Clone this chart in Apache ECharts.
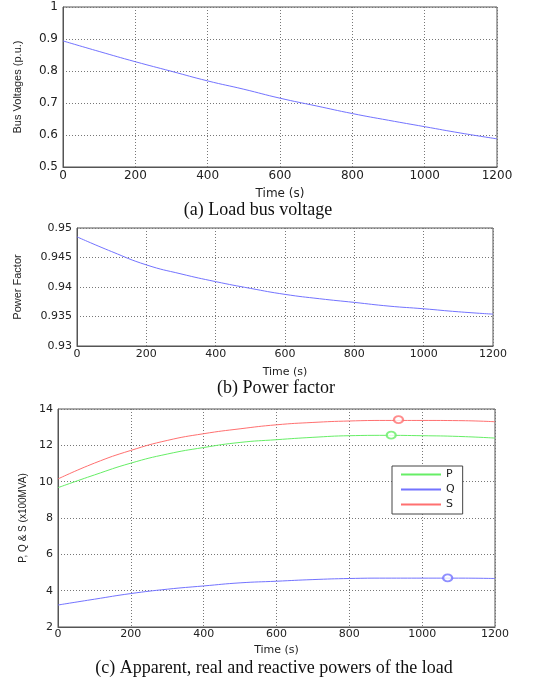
<!DOCTYPE html>
<html>
<head>
<meta charset="utf-8">
<script src="https://cdn.jsdelivr.net/npm/echarts@6/dist/echarts.min.js"></script>
<style>
html,body{margin:0;padding:0;background:#fff;}
#c{width:552px;height:683px;}
</style>
</head>
<body>
<div id="c"></div>
<script>
// Time samples (s)
const time = [0, 100, 200, 300, 400, 500, 600, 700, 800, 900, 1000, 1100, 1200];
// (a) Load bus voltage (p.u.)
const voltage = [0.894, 0.861, 0.829, 0.799, 0.769, 0.743, 0.715, 0.691, 0.667, 0.646, 0.626, 0.606, 0.588];
// (b) Power factor
const powerFactor = [0.9485, 0.9460, 0.94375, 0.94222, 0.94091, 0.93977, 0.93875, 0.93801, 0.93739, 0.93676, 0.93631, 0.9358, 0.9354];
// (c) Powers (x100MVA)
const pPower = [9.67, 10.37, 11.02, 11.52, 11.88, 12.16, 12.31, 12.44, 12.53, 12.55, 12.53, 12.49, 12.40];
const qPower = [3.21, 3.53, 3.84, 4.08, 4.26, 4.43, 4.52, 4.61, 4.67, 4.69, 4.69, 4.69, 4.67];
const sPower = [10.15, 11.02, 11.72, 12.27, 12.64, 12.91, 13.13, 13.26, 13.34, 13.37, 13.37, 13.36, 13.30];
// circle markers (time, value)
const pMark = [915, 12.56];
const qMark = [1070, 4.70];
const sMark = [935, 13.41];
// tick settings
const xTicks = {min: 0, max: 1200, interval: 200};
const captions = ['(a) Load bus voltage', '(b) Power factor', '(c) Apparent, real and reactive powers of the load'];

const zip = (xs, ys) => xs.map((x, i) => [x, ys[i]]);
const tickFont = 'DejaVu Sans';
const gridLine = {show: true, lineStyle: {color: '#777', type: [1, 2], width: 1}};
const axLine = {show: true, lineStyle: {color: '#555', width: 1}};

function xAxis(gi, fs, margin, gap) {
  return {
    type: 'value', gridIndex: gi, min: xTicks.min, max: xTicks.max, interval: xTicks.interval,
    name: 'Time (s)', nameLocation: 'middle', nameGap: gap,
    nameTextStyle: {fontFamily: tickFont, fontSize: fs, color: '#222'},
    axisLine: axLine, axisTick: {show: false}, splitLine: gridLine,
    axisLabel: {fontFamily: tickFont, fontSize: fs, color: '#222', margin: margin,
      formatter: v => String(v)}
  };
}
function yAxis(gi, min, max, interval, name, gap, fs, nfs, dec) {
  return {
    type: 'value', gridIndex: gi, min: min, max: max, interval: interval,
    name: name, nameLocation: 'middle', nameGap: gap,
    nameTextStyle: {fontFamily: 'Liberation Sans', fontSize: nfs, color: '#222'},
    axisLine: axLine, axisTick: {show: false}, splitLine: gridLine,
    axisLabel: {fontFamily: tickFont, fontSize: fs, color: '#222', margin: 5,
      formatter: v => String(+v.toFixed(dec))}
  };
}
const lineS = (name, data, color, xi) => ({
  name: name, type: 'line', xAxisIndex: xi, yAxisIndex: xi, data: data,
  smooth: true, symbol: 'none', lineStyle: {color: color, width: 1}, itemStyle: {color: color}
});
const markS = (pt, color) => ({
  type: 'scatter', xAxisIndex: 2, yAxisIndex: 2, data: [pt], symbol: 'emptyCircle',
  symbolSize: [9, 7], itemStyle: {color: color, borderColor: color, borderWidth: 1}, z: 5
});

const chart = echarts.init(document.getElementById('c'), null, {renderer: 'canvas'});
chart.setOption({
  animation: false,
  backgroundColor: '#fff',
  grid: [
    {left: 63, top: 7, width: 434, height: 160, show: true, borderColor: '#555', borderWidth: 1},
    {left: 77, top: 228, width: 416, height: 118, show: true, borderColor: '#555', borderWidth: 1},
    {left: 58, top: 409, width: 437, height: 218, show: true, borderColor: '#555', borderWidth: 1}
  ],
  xAxis: [xAxis(0, 12, 3, 21), xAxis(1, 11, 3, 21), xAxis(2, 11, 2, 18)],
  yAxis: [
    yAxis(0, 0.5, 1, 0.1, 'Bus Voltages (p.u.)', 40, 12, 11, 2),
    yAxis(1, 0.93, 0.95, 0.005, 'Power Factor', 54, 11, 11, 3),
    yAxis(2, 2, 14, 2, 'P, Q & S (x100MVA)', 30, 11, 10, 1)
  ],
  legend: {
    data: ['P', 'Q', 'S'], orient: 'vertical', left: 392, top: 466,
    itemWidth: 40, itemHeight: 8, itemGap: 4, padding: [3, 8, 4, 8],
    itemStyle: {opacity: 0},
    backgroundColor: '#fff', borderColor: '#444', borderWidth: 1, borderRadius: 0,
    textStyle: {fontFamily: tickFont, fontSize: 11, color: '#222'}
  },
  graphic: [
    {type: 'text', x: 258, y: 210, style: {text: captions[0], font: '18px "Liberation Serif"', fill: '#111', textAlign: 'center', textVerticalAlign: 'middle'}},
    {type: 'text', x: 276, y: 388, style: {text: captions[1], font: '18px "Liberation Serif"', fill: '#111', textAlign: 'center', textVerticalAlign: 'middle'}},
    {type: 'text', x: 274, y: 668, style: {text: captions[2], font: '18px "Liberation Serif"', fill: '#111', textAlign: 'center', textVerticalAlign: 'middle'}}
  ],
  series: [
    lineS('V', zip(time, voltage), '#7373ff', 0),
    lineS('PF', zip(time, powerFactor), '#7373ff', 1),
    lineS('P', zip(time, pPower), '#66ee66', 2),
    lineS('Q', zip(time, qPower), '#7373ff', 2),
    lineS('S', zip(time, sPower), '#ff7070', 2),
    markS(pMark, '#66ee66'),
    markS(qMark, '#7373ff'),
    markS(sMark, '#ff7070')
  ]
});
</script>
</body>
</html>
